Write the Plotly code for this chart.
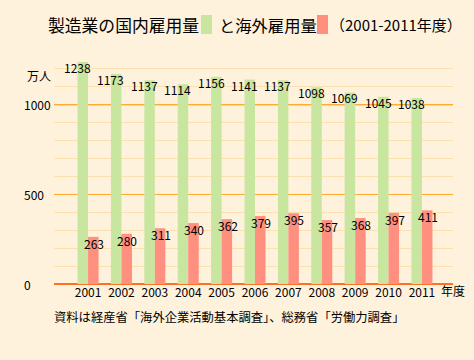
import plotly.graph_objects as go

years = [2001, 2002, 2003, 2004, 2005, 2006, 2007, 2008, 2009, 2010, 2011]
domestic = [1238, 1173, 1137, 1114, 1156, 1141, 1137, 1098, 1069, 1045, 1038]
overseas = [263, 280, 311, 340, 362, 379, 395, 357, 368, 397, 411]
year_labels = [str(y) for y in years]
y_ticks = [0, 500, 1000]
y_tick_labels = ["0", "500", "1000"]

W, H = 474, 360
L, R, T, B = 54, 21, 51, 76
PW, PH = W - L - R, H - T - B

def px(x):
    return (x - L) / PW

def py(y):
    return (H - B - y) / PH

FONT = "Noto Sans CJK JP, Liberation Sans, sans-serif"
GREEN = "#c8e6a0"
RED = "#ff9080"
BG = "#fff2dd"

fig = go.Figure()
fig.add_trace(go.Bar(x=years, y=domestic, marker=dict(color=GREEN, line=dict(width=0)),
                     name="国内雇用量", hoverinfo="x+y"))
fig.add_trace(go.Bar(x=years, y=overseas, marker=dict(color=RED, line=dict(width=0)),
                     name="海外雇用量", hoverinfo="x+y"))

ann = []
for yv, d, o in zip(years, domestic, overseas):
    ann.append(dict(x=yv, y=d, xref="x", yref="y", text=str(d), showarrow=False,
                    yanchor="top", xanchor="center", xshift=-10.5, yshift=5,
                    font=dict(size=12, color="#000")))
    ann.append(dict(x=yv, y=o, xref="x", yref="y", text=str(o), showarrow=False,
                    yanchor="top", xanchor="center", xshift=6, yshift=4,
                    font=dict(size=12, color="#000")))

for v, t in zip(y_ticks, y_tick_labels):
    ann.append(dict(x=px(22), y=v, xref="paper", yref="y", text=t, showarrow=False,
                    xanchor="left", yanchor="middle", font=dict(size=12, color="#000")))

ann.append(dict(x=px(25), y=py(76), xref="paper", yref="paper", text="万人", showarrow=False,
                xanchor="left", yanchor="middle", font=dict(size=12, color="#000")))
ann.append(dict(x=px(453), y=py(290), xref="paper", yref="paper", text="年度", showarrow=False,
                xanchor="center", yanchor="middle", font=dict(size=12, color="#000")))

# title pieces
ann.append(dict(x=px(46), y=py(25), xref="paper", yref="paper", text="製造業の国内雇用量",
                showarrow=False, xanchor="left", yanchor="middle", font=dict(size=16.8, color="#000")))
ann.append(dict(x=px(217), y=py(25), xref="paper", yref="paper", text="と海外雇用量",
                showarrow=False, xanchor="left", yanchor="middle", font=dict(size=16.3, color="#000")))
ann.append(dict(x=px(328), y=py(25), xref="paper", yref="paper", text="（2001-2011年度）",
                showarrow=False, xanchor="left", yanchor="middle", font=dict(size=15, color="#000")))

# footer
ann.append(dict(x=px(52), y=py(317), xref="paper", yref="paper",
                text="資料は経産省「海外企業活動基本調査」、総務省「労働力調査」",
                showarrow=False, xanchor="left", yanchor="middle", font=dict(size=12.3, color="#000")))

shapes = [
    dict(type="rect", xref="paper", yref="paper", x0=px(201), x1=px(212), y0=py(34), y1=py(15),
         fillcolor=GREEN, line=dict(width=0)),
    dict(type="rect", xref="paper", yref="paper", x0=px(317), x1=px(328), y0=py(34), y1=py(15),
         fillcolor=RED, line=dict(width=0)),
    dict(type="line", xref="paper", yref="y", x0=0, x1=1, y0=1000, y1=1000,
         line=dict(color="#f87426", width=1.2), layer="below"),
]

fig.update_layout(
    width=W, height=H,
    margin=dict(l=L, r=R, t=T, b=B),
    paper_bgcolor=BG, plot_bgcolor=BG,
    showlegend=False,
    barmode="group", bargap=0.37, bargroupgap=0,
    font=dict(family=FONT, size=12, color="#000"),
    annotations=ann, shapes=shapes,
    xaxis=dict(range=[1999.98, 2011.93], tickvals=years, ticktext=year_labels,
               showgrid=False, zeroline=False, showline=False, ticks="",
               tickfont=dict(size=12, color="#000"), ticklabelstandoff=0),
    yaxis=dict(range=[0, 1300], tickvals=y_ticks, showticklabels=False,
               showgrid=True, gridcolor="#ffaa33", gridwidth=1,
               minor=dict(dtick=100, showgrid=True, gridcolor="#fde0b0", gridwidth=1),
               zeroline=True, zerolinecolor="#ff7020", zerolinewidth=1.5,
               showline=False, ticks=""),
)

fig.write_html("out.html", config={"displayModeBar": False},
               post_script="document.body.style.margin='0';document.body.style.background='" + BG + "';")
